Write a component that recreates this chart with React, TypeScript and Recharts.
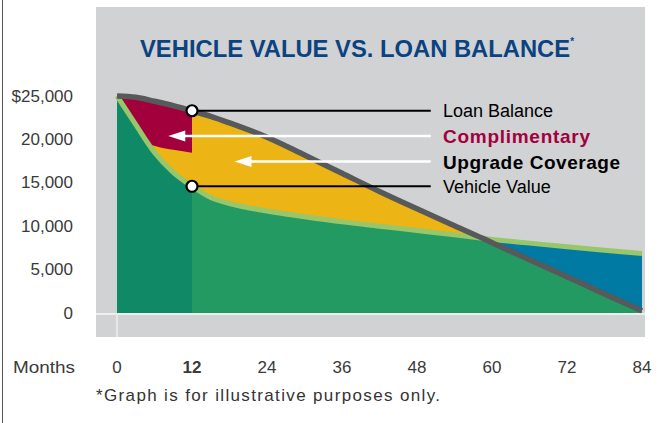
import React from 'react';
import { ComposedChart, Area, Line, XAxis, YAxis, ReferenceLine, ReferenceDot } from 'recharts';

// months on the x axis
const months = [0, 3, 6, 9, 12, 15, 18, 24, 30, 36, 42, 48, 54, 58.5, 60, 66, 72, 78, 84];
const loanBalance = [25000, 24850, 24400, 23900, 23300, 22650, 21900, 20250, 18200, 16100, 14000, 12000, 10050, 8600, 8100, 6130, 4170, 2200, 250];
const vehicleValue = [25000, 21700, 18500, 16200, 14600, 13300, 12600, 11750, 11100, 10500, 10000, 9500, 9000, 8600, 8480, 8050, 7620, 7230, 6850];

// complimentary coverage wedge (first 12 months)
const complimentaryMonths = [0, 3, 5, 6.5, 9, 12];
const complimentaryTop = [25000, 24850, 24550, 24330, 23900, 23300];
const complimentaryBottom = [25000, 21700, 19550, 19150, 18800, 18450];

const crossoverMonth = 58.5;
const complimentaryEnd = 12;

const xTicks = [0, 12, 24, 36, 48, 60, 72, 84];
const yTicks = [0, 5000, 10000, 15000, 20000, 25000];
const yTickLabels = ['0', '5,000', '10,000', '15,000', '20,000', '$25,000'];

const calloutLabels = ['Loan Balance', 'Complimentary', 'Upgrade Coverage', 'Vehicle Value'];
const arrowLevels = [20400, 17450];
const arrowTips = [8.2, 18.8];
const calloutEnd = 50.2;

const FONT = '"Liberation Sans", Arial, Helvetica, sans-serif';

const rows = months.map((m, i) => {
  const loan = loanBalance[i];
  const vehicle = vehicleValue[i];
  return {
    month: m,
    loan,
    vehicle,
    ground: Math.min(loan, vehicle),
    upgrade: m <= crossoverMonth ? [vehicle, loan] : null,
    gap: m >= crossoverMonth ? [loan, vehicle] : null,
  };
});

const compRows = complimentaryMonths.map((m, i) => ({
  month: m,
  comp: [complimentaryBottom[i], complimentaryTop[i]],
}));

const loanAt12 = loanBalance[months.indexOf(complimentaryEnd)];
const vehicleAt12 = vehicleValue[months.indexOf(complimentaryEnd)];
const split = complimentaryEnd / 84;

const YTick = (props: any) => {
  const { y, payload } = props;
  const idx = yTicks.indexOf(payload.value);
  return (
    <text x={73} y={y} textAnchor="end" dominantBaseline="central" fontSize={17} fill="#3a3a3a" fontFamily={FONT}>
      {yTickLabels[idx]}
    </text>
  );
};

const XTick = (props: any) => {
  const { x, payload } = props;
  return (
    <text
      x={x}
      y={367}
      textAnchor="middle"
      dominantBaseline="central"
      fontSize={17}
      fontWeight={payload.value === complimentaryEnd ? 'bold' : 'normal'}
      fill="#3a3a3a"
      fontFamily={FONT}
    >
      {payload.value}
    </text>
  );
};

const ringDot = (p: any) => (
  <circle cx={p.cx} cy={p.cy} r={5.5} fill="#fff" stroke="#000" strokeWidth={2.2} />
);

const arrowHead = (p: any) => (
  <polygon points={`${p.cx},${p.cy} ${p.cx + 17},${p.cy - 5.5} ${p.cx + 17},${p.cy + 5.5}`} fill="#fff" />
);

export default function App() {
  return (
    <div style={{ position: 'absolute', left: 0, top: 0, width: 671, height: 423, background: '#fff', overflow: 'hidden' }}>
      <div style={{ position: 'absolute', left: 2, top: 0, width: 1, height: 423, background: '#555' }} />
      <div style={{ position: 'absolute', left: 96, top: 7, width: 549, height: 330, background: '#d1d2d4' }} />
      <div style={{ position: 'absolute', left: 96, top: 313, width: 549, height: 2, background: '#eeefef' }} />
      <div style={{ position: 'absolute', left: 116, top: 313, width: 2, height: 24, background: '#e6e7e8' }} />

      <div style={{ position: 'absolute', left: 0, top: 0 }}>
        <ComposedChart width={671} height={423} data={rows} margin={{ top: 96, right: 29, bottom: 0, left: 0 }}>
          <defs>
            <linearGradient id="groundFill" x1="0" y1="0" x2="1" y2="0">
              <stop offset={0} stopColor="#0f8966" />
              <stop offset={split} stopColor="#0f8966" />
              <stop offset={split} stopColor="#249a63" />
              <stop offset={1} stopColor="#249a63" />
            </linearGradient>
          </defs>
          <XAxis
            dataKey="month"
            type="number"
            domain={[0, 84]}
            ticks={xTicks}
            interval={0}
            height={110}
            axisLine={false}
            tickLine={false}
            tick={<XTick />}
          />
          <YAxis
            type="number"
            domain={[0, 25000]}
            ticks={yTicks}
            interval={0}
            width={117}
            axisLine={false}
            tickLine={false}
            tick={<YTick />}
          />
          <Area dataKey="upgrade" type="monotone" stroke="none" fill="#ecb414" fillOpacity={1} isAnimationActive={false} />
          <Area dataKey="gap" type="monotone" stroke="none" fill="#0079a3" fillOpacity={1} isAnimationActive={false} />
          <Area data={compRows} dataKey="comp" type="monotone" stroke="none" fill="#a1003d" fillOpacity={1} isAnimationActive={false} />
          <Area dataKey="ground" type="monotone" stroke="none" fill="url(#groundFill)" fillOpacity={1} isAnimationActive={false} />
          <Line dataKey="vehicle" type="monotone" stroke="#97c66b" strokeWidth={5} dot={false} isAnimationActive={false} />
          <Line dataKey="loan" type="monotone" stroke="#58595b" strokeWidth={5.5} dot={false} isAnimationActive={false} />

          <ReferenceLine segment={[{ x: complimentaryEnd, y: loanAt12 }, { x: calloutEnd, y: loanAt12 }]} stroke="#000" strokeWidth={2} />
          <ReferenceLine segment={[{ x: complimentaryEnd, y: vehicleAt12 }, { x: calloutEnd, y: vehicleAt12 }]} stroke="#000" strokeWidth={2} />
          <ReferenceLine segment={[{ x: arrowTips[0] + 1, y: arrowLevels[0] }, { x: calloutEnd, y: arrowLevels[0] }]} stroke="#fff" strokeWidth={2.5} />
          <ReferenceLine segment={[{ x: arrowTips[1] + 1, y: arrowLevels[1] }, { x: calloutEnd, y: arrowLevels[1] }]} stroke="#fff" strokeWidth={2.5} />
          <ReferenceDot x={arrowTips[0]} y={arrowLevels[0]} shape={arrowHead} />
          <ReferenceDot x={arrowTips[1]} y={arrowLevels[1]} shape={arrowHead} />
          <ReferenceDot x={complimentaryEnd} y={loanAt12} shape={ringDot} />
          <ReferenceDot x={complimentaryEnd} y={vehicleAt12} shape={ringDot} />
        </ComposedChart>
      </div>

      <svg width={671} height={423} style={{ position: 'absolute', left: 0, top: 0, pointerEvents: 'none' }}>
        <text x={140} y={57} fontSize={24} fontWeight="bold" fill="#0b4381" fontFamily={FONT} textLength={434} lengthAdjust="spacingAndGlyphs">
          VEHICLE VALUE VS. LOAN BALANCE
          <tspan fontSize={10} dy={-12}>*</tspan>
        </text>

        <text x={443} y={111} dominantBaseline="central" fontSize={18} fill="#000" fontFamily={FONT}>{calloutLabels[0]}</text>
        <text x={443} y={136} dominantBaseline="central" fontSize={19} fontWeight="bold" fill="#a1003d" fontFamily={FONT} textLength={147} lengthAdjust="spacing">{calloutLabels[1]}</text>
        <text x={443} y={162} dominantBaseline="central" fontSize={19} fontWeight="bold" fill="#000" fontFamily={FONT} textLength={177} lengthAdjust="spacing">{calloutLabels[2]}</text>
        <text x={443} y={187} dominantBaseline="central" fontSize={18} fill="#000" fontFamily={FONT}>{calloutLabels[3]}</text>

        <text x={13} y={367} dominantBaseline="central" fontSize={17} fill="#3a3a3a" fontFamily={FONT} textLength={62} lengthAdjust="spacingAndGlyphs">Months</text>
        <text x={96} y={395} dominantBaseline="central" fontSize={17} fill="#333" fontFamily={FONT} textLength={344} lengthAdjust="spacing">
          *Graph is for illustrative purposes only.
        </text>
      </svg>
    </div>
  );
}
